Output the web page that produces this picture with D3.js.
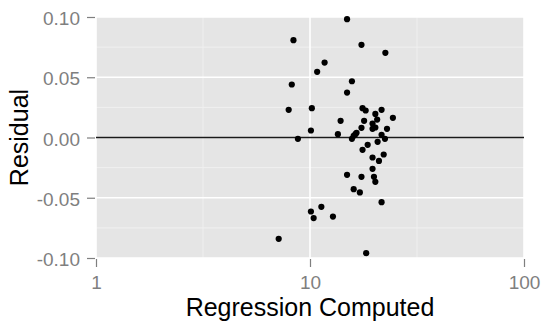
<!DOCTYPE html>
<html>
<head>
<meta charset="utf-8">
<script src="https://cdn.jsdelivr.net/npm/d3@7"></script>
<style>
  body { margin: 0; background: #fff; }
  svg { display: block; font-family: "Liberation Sans", Arial, sans-serif; }
  .tick text { fill: #7f7f7f; font-size: 19px; }
  .tick line { stroke: #7f7f7f; }
</style>
</head>
<body>
<svg class="canvas" width="541" height="329"></svg>
<script>
// regression computed (x, log scale) and residual (y)
var regComputed = [14.9, 8.37, 17.4, 22.5, 11.7, 10.8, 15.7, 8.22, 14.9, 7.95,
  10.2, 17.6, 18.2, 21.6, 20.2, 24.4, 13.9, 17.9, 20.6, 19.6,
  10.1, 17.4, 19.6, 20.2, 22.9, 13.5, 16.5, 8.78, 15.7, 16.0,
  16.3, 21.6, 22.4, 20.7, 18.6, 17.6, 22.1, 19.6, 21.0, 19.6,
  14.9, 17.4, 19.9, 20.2, 16.0, 17.1, 21.6, 11.3, 10.1, 10.4,
  12.8, 7.14, 18.3]
var residual = [0.0982, 0.0808, 0.0769, 0.0703, 0.0622, 0.0545, 0.0467, 0.0440, 0.0373, 0.0230,
  0.0243, 0.0243, 0.0224, 0.0230, 0.0196, 0.0163, 0.0138, 0.0138, 0.0149, 0.0116,
  0.0058, 0.0080, 0.0072, 0.0083, 0.0072, 0.0028, 0.0039, -0.0011, -0.0011, 0.0014,
  0.0028, 0.0022, -0.0011, -0.0036, -0.0061, -0.0102, -0.0141, -0.0166, -0.0194, -0.0260,
  -0.0310, -0.0326, -0.0326, -0.0368, -0.0429, -0.0456, -0.0537, -0.0575, -0.0614, -0.0669,
  -0.0656, -0.0841, -0.0960]

var xTicks = [1, 10, 100]
var xMinor = [3.162, 31.62]
var yTicks = [-0.1, -0.05, 0, 0.05, 0.1]
var yMinor = [-0.075, -0.025, 0.025, 0.075]

var Panel = {left: 96, right: 524, top: 17, bottom: 258}
var svg = d3.select('.canvas')

var x = d3.scaleLog().domain([1, 100]).range([Panel.left, Panel.right])
var y = d3.scaleLinear().domain([-0.1, 0.1]).range([Panel.bottom, Panel.top])

// panel background
svg.append('rect')
  .attr('x', Panel.left)
  .attr('y', Panel.top)
  .attr('width', Panel.right - Panel.left)
  .attr('height', Panel.bottom - Panel.top)
  .attr('fill', '#e5e5e5')

// minor grid
svg.selectAll('.minor-y').data(yMinor).enter().append('line')
  .attr('x1', Panel.left).attr('x2', Panel.right)
  .attr('y1', function(d) { return y(d) }).attr('y2', function(d) { return y(d) })
  .attr('stroke', '#f2f2f2').attr('stroke-width', 0.9)
svg.selectAll('.minor-x').data(xMinor).enter().append('line')
  .attr('y1', Panel.top).attr('y2', Panel.bottom)
  .attr('x1', function(d) { return x(d) }).attr('x2', function(d) { return x(d) })
  .attr('stroke', '#f2f2f2').attr('stroke-width', 0.9)

// major grid
svg.selectAll('.major-y').data(yTicks).enter().append('line')
  .attr('x1', Panel.left).attr('x2', Panel.right)
  .attr('y1', function(d) { return y(d) }).attr('y2', function(d) { return y(d) })
  .attr('stroke', '#ffffff').attr('stroke-width', 1.6)
svg.selectAll('.major-x').data(xTicks).enter().append('line')
  .attr('y1', Panel.top).attr('y2', Panel.bottom)
  .attr('x1', function(d) { return x(d) }).attr('x2', function(d) { return x(d) })
  .attr('stroke', '#ffffff').attr('stroke-width', 1.6)

// zero line
svg.append('line')
  .attr('x1', Panel.left).attr('x2', Panel.right)
  .attr('y1', y(0)).attr('y2', y(0))
  .attr('stroke', '#1a1a1a').attr('stroke-width', 1.3)

// points
svg.selectAll('.dot').data(regComputed).enter().append('circle')
  .attr('class', 'dot')
  .attr('cx', function(d) { return x(d) })
  .attr('cy', function(d, i) { return y(residual[i]) })
  .attr('r', 3.1)
  .attr('fill', '#000')

// axes
var yAxis = svg.append('g')
  .attr('transform', 'translate(' + (Panel.left - 1) + ',0)')
  .call(d3.axisLeft(y).tickValues(yTicks).tickSize(8).tickPadding(7)
    .tickFormat(function(d) { return d.toFixed(2) }))
yAxis.select('.domain').remove()
yAxis.selectAll('.tick text').attr('dy', '0.4em')

var xAxis = svg.append('g')
  .attr('transform', 'translate(0,' + (Panel.bottom + 1) + ')')
  .call(d3.axisBottom(x).tickValues(xTicks).tickSize(8).tickPadding(9)
    .tickFormat(function(d) { return String(d) }))
xAxis.select('.domain').remove()
xAxis.selectAll('.tick line').attr('stroke-width', 1.2)
yAxis.selectAll('.tick line').attr('stroke-width', 1.2)

// titles
svg.append('text')
  .attr('x', (Panel.left + Panel.right) / 2)
  .attr('y', 316)
  .attr('text-anchor', 'middle')
  .attr('font-size', 25)
  .attr('fill', '#000')
  .text('Regression Computed')

svg.append('text')
  .attr('transform', 'translate(28,' + ((Panel.top + Panel.bottom) / 2) + ') rotate(-90)')
  .attr('text-anchor', 'middle')
  .attr('font-size', 25)
  .attr('fill', '#000')
  .text('Residual')
</script>
</body>
</html>
